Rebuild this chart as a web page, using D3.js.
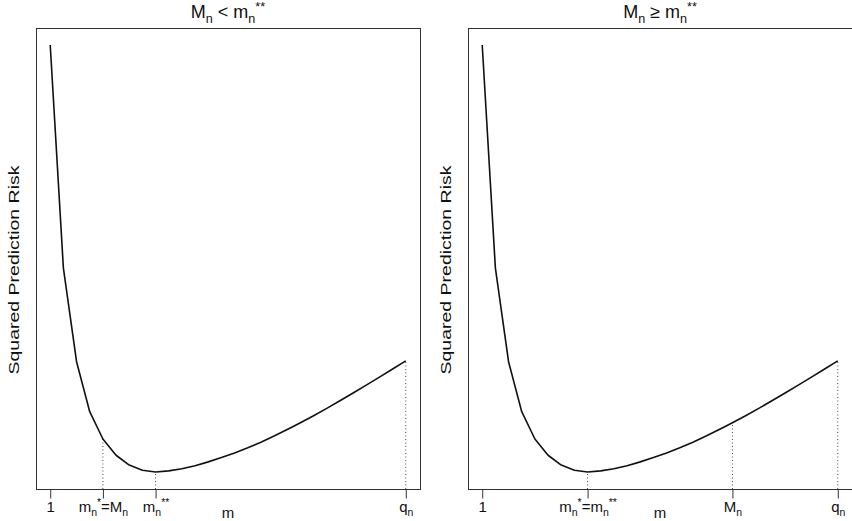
<!DOCTYPE html>
<html>
<head>
<meta charset="utf-8">
<script src="https://cdn.jsdelivr.net/npm/d3@7"></script>
<style>
  body { margin: 0; background: #fff; }
  text { font-family: "Liberation Sans", Arial, sans-serif; fill: #111; }
</style>
</head>
<body>
<div id="chart"></div>
<script>
// model size m and the squared prediction risk (arbitrary units)
var mValues = [1, 2, 3, 4, 5, 6, 7, 8, 9, 10, 11, 12, 13, 14, 15, 16, 17, 18, 19, 20,
               21, 22, 23, 24, 25, 26, 27, 28];
var riskValues = [100, 47.8, 25.9, 14.2, 7.8, 4.0, 1.7, 0.5, 0.1, 0.35, 0.85, 1.55, 2.45, 3.45,
                  4.55, 5.75, 7.05, 8.5, 10.05, 11.6, 13.25, 14.97, 16.75, 18.57, 20.42, 22.29,
                  24.19, 26.1];

// tokens: [text, "" | "sub" | "sup"]
var panelTitles = [
    [["M", ""], ["n", "sub"], [" < m", ""], ["n", "sub"], ["**", "sup"]],
    [["M", ""], ["n", "sub"], [" \u2265 m", ""], ["n", "sub"], ["**", "sup"]]
];
var panelTicks = [
    [1, 5, 9, 28],
    [1, 9, 20, 28]
];
var panelTickLabels = [
    [
        [["1", ""]],
        [["m", ""], ["n", "sub"], ["*", "sup"], ["=M", ""], ["n", "sub"]],
        [["m", ""], ["n", "sub"], ["**", "sup"]],
        [["q", ""], ["n", "sub"]]
    ],
    [
        [["1", ""]],
        [["m", ""], ["n", "sub"], ["*", "sup"], ["=m", ""], ["n", "sub"], ["**", "sup"]],
        [["M", ""], ["n", "sub"]],
        [["q", ""], ["n", "sub"]]
    ]
];
// dotted guides go up from the axis to the curve at these m
var panelGuides = [
    [5, 9, 28],
    [9, 20, 28]
];

var yLabel = "Squared Prediction Risk",
    xLabel = "m";

var W = 852, H = 521;
var fontSize = 15,
    titleSize = 18;

var svg = d3.select("#chart").append("svg")
    .attr("width", W)
    .attr("height", H);

var panels = [
    {left: 36, right: 420},
    {left: 468, right: 852}
];
var plotTop = 28, plotBottom = 489;

var data = mValues.map(function(m, i) { return {m: m, v: riskValues[i]}; });

// R style 4% padding on both axes
function padded(ext) {
    var d = (ext[1] - ext[0]) * 0.04;
    return [ext[0] - d, ext[1] + d];
}

function writeTokens(textSel, tokens, size) {
    var shift = 0;
    tokens.forEach(function(t) {
        var target = t[1] == "sub" ? size * 0.27 : (t[1] == "sup" ? -size * 0.4 : 0);
        textSel.append("tspan")
            .attr("dy", target - shift)
            .style("font-size", t[1] ? (size * 0.7) + "px" : null)
            .text(t[0]);
        shift = target;
    });
}

var yScale = d3.scaleLinear()
    .domain(padded(d3.extent(riskValues)))
    .range([plotBottom, plotTop]);

panels.forEach(function(p, pi) {
    var x = d3.scaleLinear()
        .domain(padded(d3.extent(mValues)))
        .range([p.left, p.right]);

    var g = svg.append("g");

    // dotted guides
    g.selectAll(".guide")
        .data(panelGuides[pi])
        .join("line")
        .attr("class", "guide")
        .attr("x1", function(d) { return x(d); })
        .attr("x2", function(d) { return x(d); })
        .attr("y1", plotBottom)
        .attr("y2", function(d) { return yScale(riskValues[mValues.indexOf(d)]); })
        .attr("stroke", "#444")
        .attr("stroke-width", 1)
        .attr("stroke-dasharray", "1,2.5");

    var line = d3.line()
        .x(function(d) { return x(d.m); })
        .y(function(d) { return yScale(d.v); });

    g.append("path")
        .datum(data)
        .attr("d", line)
        .attr("fill", "none")
        .attr("stroke", "#111")
        .attr("stroke-width", 1.6)
        .attr("stroke-linejoin", "round");

    // box
    g.append("rect")
        .attr("x", p.left + 0.5)
        .attr("y", plotTop + 0.5)
        .attr("width", p.right - p.left)
        .attr("height", plotBottom - plotTop)
        .attr("fill", "none")
        .attr("stroke", "#333")
        .attr("stroke-width", 1);

    // x axis ticks
    var axis = g.append("g")
        .attr("transform", "translate(0," + (plotBottom + 0.5) + ")")
        .call(d3.axisBottom(x)
            .tickValues(panelTicks[pi])
            .tickSize(9)
            .tickFormat(""));
    axis.select(".domain").remove();
    axis.selectAll(".tick line").attr("stroke", "#333");

    axis.selectAll(".tick").each(function(d, i) {
        var t = d3.select(this).select("text")
            .attr("y", 0)
            .attr("dy", null)
            .attr("transform", "translate(0,22)")
            .attr("text-anchor", "middle")
            .style("font-size", fontSize + "px")
            .attr("fill", "#111");
        writeTokens(t, panelTickLabels[pi][i], fontSize);
    });

    // title
    var title = g.append("text")
        .attr("x", (p.left + p.right) / 2)
        .attr("y", 18)
        .attr("text-anchor", "middle")
        .style("font-size", titleSize + "px");
    writeTokens(title, panelTitles[pi], titleSize);

    // x label
    g.append("text")
        .attr("x", (p.left + p.right) / 2)
        .attr("y", 518)
        .attr("text-anchor", "middle")
        .style("font-size", fontSize + "px")
        .text(xLabel);

    // y label
    g.append("text")
        .attr("transform", "translate(" + (p.left - 17) + ",270) scale(1,1.3) rotate(-90)")
        .attr("text-anchor", "middle")
        .style("font-size", fontSize + "px")
        .text(yLabel);
});
</script>
</body>
</html>
